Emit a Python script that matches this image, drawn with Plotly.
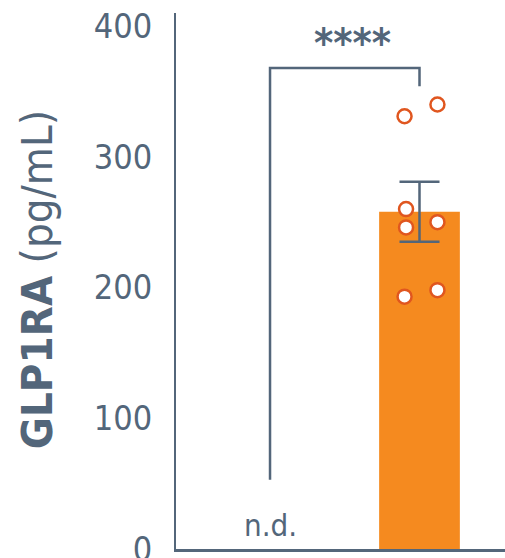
import plotly.graph_objects as go

# ---- data ----
groups = [0, 1]                      # 0: n.d. group, 1: measured group
group_labels = ["n.d.", ""]
points_y = [331, 340, 260, 246, 250, 193, 198]
points_x_offset = [-0.10, 0.12, -0.09, -0.09, 0.12, -0.10, 0.12]
bar_mean = [258]
bar_sem = [23]
y_ticks = [0, 100, 200, 300, 400]
bracket_left_y = 53
bracket_top_y = 368
bracket_right_y = 354
sig_label = "****"
sig_y = 387
nd_y = 18

SLATE = "#53667A"
ORANGE = "#F58A1F"
MARK = "#E0561F"
FONT = "DejaVu Sans Condensed, DejaVu Sans"

fig = go.Figure()
fig.add_trace(go.Bar(
    x=[groups[1]], y=bar_mean, width=0.54,
    marker=dict(color=ORANGE, line=dict(width=0)),
    error_y=dict(type="data", array=bar_sem, color=SLATE, thickness=2.5, width=20),
    showlegend=False, hoverinfo="skip"))
fig.add_trace(go.Scatter(
    x=[groups[1] + o for o in points_x_offset], y=points_y, mode="markers",
    marker=dict(size=14, color="white", line=dict(color=MARK, width=2.5)),
    showlegend=False, hoverinfo="skip"))

# significance bracket
fig.add_shape(type="path",
    path=f"M {groups[0]},{bracket_left_y} L {groups[0]},{bracket_top_y} L {groups[1]},{bracket_top_y} L {groups[1]},{bracket_right_y}",
    xref="x", yref="y", line=dict(color=SLATE, width=2.5))
fig.add_annotation(x=(groups[0] + groups[1]) / 2 + 0.055, y=sig_y, xref="x", yref="y",
    text="<b>" + sig_label + "</b>", showarrow=False,
    font=dict(family=FONT, size=41, color=SLATE), yanchor="middle")
fig.add_annotation(x=groups[0], y=nd_y, xref="x", yref="y",
    text=group_labels[0], showarrow=False, font=dict(family=FONT, size=31, color=SLATE),
    yanchor="middle")
# y title
fig.add_annotation(x=-0.42, y=0.503, xref="paper", yref="paper",
    text="<b>GLP1RA</b> (pg/mL)", textangle=-90, showarrow=False,
    font=dict(family=FONT, size=43.5, color=SLATE), xanchor="center", yanchor="middle")

fig.update_layout(
    width=505, height=558,
    margin=dict(l=176, r=0, t=13, b=9, autoexpand=False),
    plot_bgcolor="white", paper_bgcolor="white",
    xaxis=dict(range=[-0.629, 1.572], showgrid=False, zeroline=False, showticklabels=False,
               showline=True, linecolor=SLATE, linewidth=2.5, ticks="", automargin=False),
    yaxis=dict(range=[0, 410], tickvals=y_ticks, showgrid=False, zeroline=False,
               showline=True, linecolor=SLATE, linewidth=2, ticks="", automargin=False,
               tickfont=dict(family=FONT, size=34, color=SLATE), ticklabelstandoff=15,
               ticklabeloverflow="allow"),
)
fig.write_html("out.html")
